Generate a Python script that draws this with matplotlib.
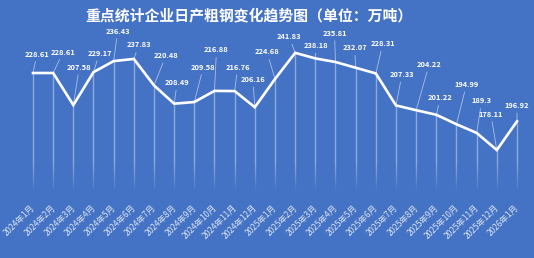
import numpy as np
import matplotlib
matplotlib.use('Agg')
import matplotlib.pyplot as plt
import matplotlib.transforms as mtransforms
from matplotlib.collections import LineCollection

plt.rcParams['font.family'] = ['Noto Sans CJK SC', 'DejaVu Sans']

# данные
months = ['2024年1月', '2024年2月', '2024年3月', '2024年4月', '2024年5月', '2024年6月',
          '2024年7月', '2024年8月', '2024年9月', '2024年10月', '2024年11月', '2024年12月',
          '2025年1月', '2025年2月', '2025年3月', '2025年4月', '2025年5月', '2025年6月',
          '2025年7月', '2025年8月', '2025年9月', '2025年10月', '2025年11月', '2025年12月',
          '2026年1月']
output = [228.61, 228.61, 207.58, 229.17, 236.43, 237.83, 220.48, 208.49, 209.58,
          216.88, 216.76, 206.16, 224.68, 241.83, 238.18, 235.81, 232.07, 228.31,
          207.33, 204.22, 201.22, 194.99, 189.3, 178.11, 196.92]
title = '重点统计企业日产粗钢变化趋势图（单位：万吨）'

# смещения подписей в пикселях (dx, dy)
label_offsets = [(4, 19), (10, 21), (6, 38), (6, 19), (4, 30), (5, 14), (12, 30),
                 (3, 21), (9, 35), (2, 41), (3, 24), (-2, 28), (-8, 27), (-6, 16),
                 (1, 13), (-1, 29), (-1, 20), (7, 30), (6, 31), (13, 46), (4, 17),
                 (10, 40), (5, 32), (-6, 36), (0, 16)]

bg = '#4472c4'
fig = plt.figure(figsize=(5.34, 2.58), dpi=100, facecolor=bg)
ax = fig.add_axes([0, 1 - 192 / 258, 1, 192 / 258])
ax.set_facecolor(bg)
x = np.arange(len(months))
ax.set_xlim(-1.636, 24.843)
ymin, ymax = 150.58, 276.48
ax.set_ylim(ymin, ymax)

# вертикальные линии с затуханием книзу
fade_top = 170.0
segs, cols = [], []
for xi, v in zip(x, output):
    segs.append([(xi, v), (xi, fade_top)])
    cols.append((1, 1, 1, 0.4))
    edges = np.linspace(fade_top, ymin, 12)
    for k in range(len(edges) - 1):
        segs.append([(xi, edges[k]), (xi, edges[k + 1])])
        cols.append((1, 1, 1, 0.4 * (1 - (k + 0.5) / (len(edges) - 1))))
ax.add_collection(LineCollection(segs, colors=cols, linewidths=1.0, zorder=1))

ax.plot(x, output, color='white', lw=1.9, solid_joinstyle='miter', zorder=3)

for xi, v, off in zip(x, output, label_offsets):
    ax.annotate(f'{v:g}', (xi, v), xytext=off, textcoords='offset pixels',
                ha='center', va='center', color='white', fontsize=5.4, fontweight='bold',
                arrowprops=dict(arrowstyle='-', color=(1, 1, 1, 0.55), lw=0.6,
                                shrinkA=1, shrinkB=0), zorder=4)

# подписи оси X
trans = mtransforms.blended_transform_factory(ax.transData, ax.transAxes) + \
    mtransforms.ScaledTranslation(4 / 100, -11 / 100, fig.dpi_scale_trans)
for xi, m in zip(x, months):
    ax.text(xi, 0, m, transform=trans, rotation=45, ha='right', va='top',
            fontsize=6.0, color='#dce5f5', clip_on=False)
ax.set_xticks([])
ax.set_yticks([])
for s in ax.spines.values():
    s.set_visible(False)

fig.text(249 / 534, 1 - 15 / 258, title, ha='center', va='center', color='white',
         fontsize=10.7, fontweight='bold')

plt.savefig('out.png', dpi=100, facecolor=bg)
